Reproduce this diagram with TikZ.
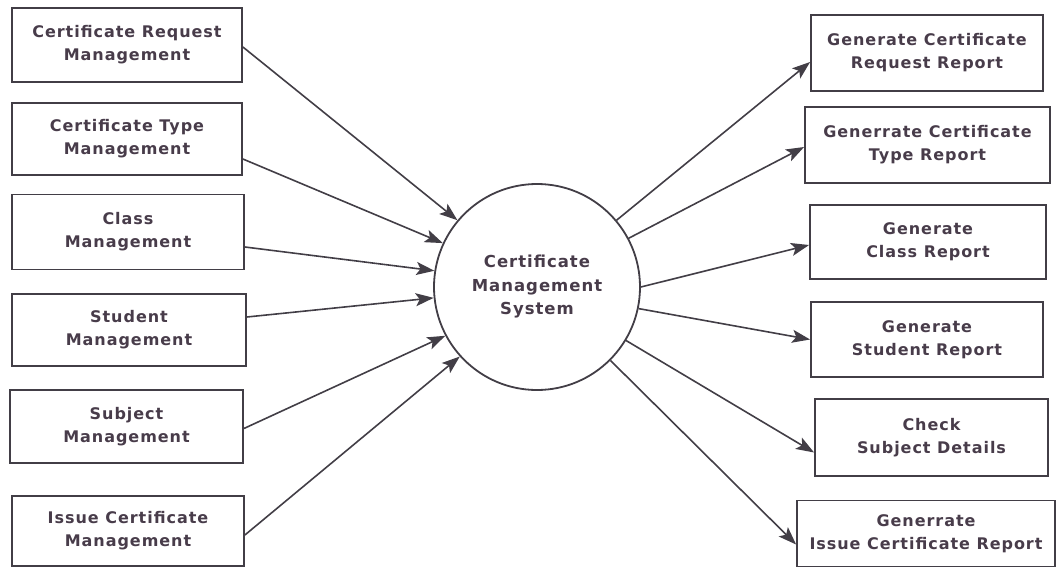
\documentclass[tikz,border=0pt]{standalone}
\usepackage{fontspec}
\setmainfont{DejaVu Sans}[LetterSpace=6]
\usetikzlibrary{arrows.meta}
\definecolor{ink}{RGB}{72,60,74}
\definecolor{edge}{RGB}{66,62,70}
\tikzset{
  box/.style={draw=edge, line width=1.8pt, rectangle, align=center, text=ink,
    font=\fontsize{16}{23}\selectfont\bfseries, inner sep=0pt},
  hub/.style={draw=edge, line width=1.8pt, circle, minimum size=206pt, align=center,
    text=ink, font=\fontsize{16.5}{23.5}\selectfont\bfseries, inner sep=0pt},
  flow/.style={draw=edge, line width=1.6pt, -{Stealth[length=18pt,width=13pt,inset=4pt]}}
}
\begin{document}
\begin{tikzpicture}[x=1pt,y=-1pt]
\useasboundingbox (0,0) rectangle (1058,568);
% left boxes
\node[box, minimum width=230pt, minimum height=74pt] (l1) at (127,45) {Certificate Request\\Management};
\node[box, minimum width=230pt, minimum height=72pt] (l2) at (127,139) {Certificate Type\\Management};
\node[box, minimum width=232pt, minimum height=75pt] (l3) at (128,232) {Class\\Management};
\node[box, minimum width=234pt, minimum height=72pt] (l4) at (129,330) {Student\\Management};
\node[box, minimum width=233pt, minimum height=73pt] (l5) at (126.5,426.5) {Subject\\Management};
\node[box, minimum width=232pt, minimum height=70pt] (l6) at (128,531) {Issue Certificate\\Management};
% hub
\node[hub] (c) at (537,287) {Certificate\\Management\\System};
% right boxes
\node[box, minimum width=232pt, minimum height=76pt] (r1) at (927,53) {Generate Certificate\\Request Report};
\node[box, minimum width=245pt, minimum height=76pt] (r2) at (927.5,145) {Generrate Certificate\\Type Report};
\node[box, minimum width=236pt, minimum height=74pt] (r3) at (928,242) {Generate\\Class Report};
\node[box, minimum width=232pt, minimum height=75pt] (r4) at (927,339.5) {Generate\\Student Report};
\node[box, minimum width=233pt, minimum height=77pt] (r5) at (931.5,437.5) {Check\\Subject Details};
\node[box, minimum width=258pt, minimum height=66pt] (r6) at (926,533.5) {Generrate\\Issue Certificate Report};
% incoming flows
\draw[flow] ([yshift=-2pt]l1.east) -- (c.140);
\draw[flow] ([yshift=-20pt]l2.east) -- (c.155.5);
\draw[flow] ([yshift=-15pt]l3.east) -- (c.171);
\draw[flow] ([yshift=13pt]l4.east) -- (c.186);
\draw[flow] ([yshift=-2pt]l5.east) -- (c.208.5);
\draw[flow] ([yshift=-4pt]l6.east) -- (c.222);
% outgoing flows
\draw[flow] (c.40.8) -- ([yshift=-9pt]r1.west);
\draw[flow] (c.28.4) -- ([yshift=-2pt]r2.west);
\draw[flow] (c.0) -- ([yshift=-3pt]r3.west);
\draw[flow] (c.348) -- (r4.west);
\draw[flow] (c.329) -- ([yshift=-15pt]r5.west);
\draw[flow] (c.315) -- ([yshift=-11pt]r6.west);
\end{tikzpicture}
\end{document}
